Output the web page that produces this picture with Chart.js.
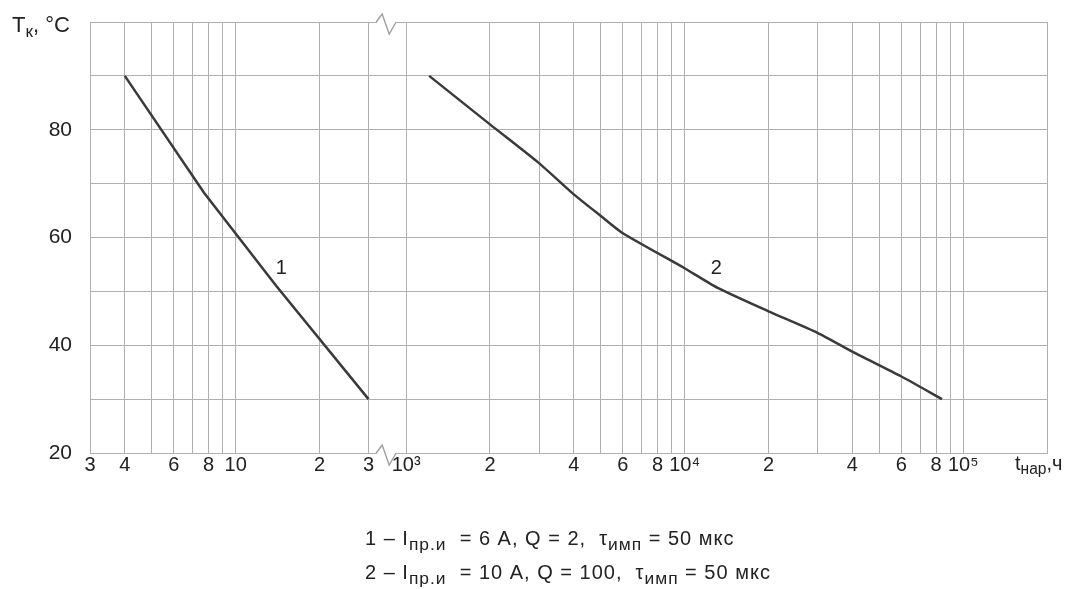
<!DOCTYPE html>
<html><head><meta charset="utf-8">
<script src="https://cdn.jsdelivr.net/npm/chart.js@4"></script>
<style>
html,body{margin:0;padding:0;background:#fff;}
#wrap{position:relative;width:1083px;height:589px;overflow:hidden;}
canvas{position:absolute;left:0;top:0;}
.t{position:absolute;font-family:"Liberation Sans",Arial,sans-serif;color:#222;white-space:pre;line-height:1;}
.t sub{font-size:0.78em;vertical-align:-0.28em;line-height:0;}
.n sub{font-size:0.87em;}
</style></head>
<body>
<div id="wrap">
<canvas id="c" width="1083" height="589"></canvas>
<div class="t" id="ytitle" style="left:12px;top:14px;font-size:22px;">T<sub>к</sub>, °C</div>
<div class="t" id="xtitle" style="left:1015px;top:453px;font-size:20px;">t<sub>нар</sub>,ч</div>
<div class="t n" id="note1" style="left:365px;top:528px;font-size:20px;letter-spacing:1px;">1 – I<sub>пр.и</sub>  = 6 А, Q = 2,  τ<sub>имп</sub> = 50 мкс</div>
<div class="t n" id="note2" style="left:365px;top:562px;font-size:20px;letter-spacing:1px;">2 – I<sub>пр.и</sub>  = 10 А, Q = 100,  τ<sub>имп</sub> = 50 мкс</div>
</div>
<script>
// ---- data ----
const leftTicks = [3,4,5,6,7,8,9,10,20,30];
const leftTickLabels = ['3','4','','6','','8','','10','2','3'];
const rightTicks = [1e3,2e3,3e3,4e3,5e3,6e3,7e3,8e3,9e3,1e4,2e4,3e4,4e4,5e4,6e4,7e4,8e4,9e4,1e5,2e5];
const rightTickLabels = ['10³','2','','4','','6','','8','','10⁴','2','','4','','6','','8','','10⁵',''];
const yTicks = [20,30,40,50,60,70,80,90,100];
const yTickLabels = ['20','','40','','60','','80','',''];
const leftRange = [3, 35];
const rightRange = [855, 200000];
const curve1Time = [4, 7.7, 14, 30];
const curve1Temp = [90, 68.3, 51, 30];
const curve2Time = [1210, 2000, 3000, 4000, 5000, 6000, 10000, 13200, 20000, 30000, 40000, 60000, 84000];
const curve2Temp = [90, 81, 73.8, 68, 64, 60.8, 54.3, 50.6, 46.3, 42.3, 38.8, 34.2, 30];
const curveLabels = ['1', '2'];
const curveLabelTime = [14.6, 13000];
const curveLabelTemp = [54.3, 54.3];

const FONT = '"Liberation Sans", Arial, sans-serif';
const GRID = '#b0b0b0';
const LINE = '#3a3a3a';

const toPts = (xs, ys) => xs.map((x, i) => ({x: x, y: ys[i]}));
const wL = Math.log10(leftRange[1] / leftRange[0]);
const wR = Math.log10(rightRange[1] / rightRange[0]);

function labelFor(ticksArr, labelsArr) {
  return function(value) {
    const i = ticksArr.findIndex(t => Math.abs(t - value) / t < 1e-6);
    return i >= 0 ? labelsArr[i] : '';
  };
}

const extras = {
  id: 'extras',
  afterDraw(chart) {
    const ctx = chart.ctx;
    const a = chart.chartArea;
    const L = chart.scales.xL, R = chart.scales.xR, Y = chart.scales.y;
    const bx = L.right;
    ctx.save();
    [a.top, a.bottom].forEach(yy => {
      ctx.fillStyle = '#fff';
      ctx.fillRect(bx - 10, yy - 2, 19, 4);
      ctx.strokeStyle = '#a0a0a0';
      ctx.lineWidth = 1.4;
      ctx.beginPath();
      ctx.moveTo(bx - 11, yy);
      ctx.lineTo(bx - 5, yy - 8);
      ctx.lineTo(bx + 2, yy + 12);
      ctx.lineTo(bx + 9, yy);
      ctx.stroke();
    });
    ctx.fillStyle = '#222';
    ctx.font = '20px ' + FONT;
    ctx.textAlign = 'center';
    ctx.textBaseline = 'middle';
    const sc = [L, R];
    curveLabels.forEach((lab, i) => {
      ctx.fillText(lab, sc[i].getPixelForValue(curveLabelTime[i]), Y.getPixelForValue(curveLabelTemp[i]));
    });
    ctx.restore();
  }
};

function xScale(range, ticksArr, labelsArr, weight) {
  return {
    type: 'logarithmic',
    position: 'bottom',
    stack: 'x',
    stackWeight: weight,
    min: range[0],
    max: range[1],
    bounds: 'data',
    afterBuildTicks: s => { s.ticks = ticksArr.map(v => ({value: v})); },
    afterFit: s => { s.height = 136; s.paddingLeft = 0; s.paddingRight = 0; },
    grid: {color: GRID, lineWidth: 1, drawTicks: false},
    border: {display: true, color: GRID, width: 1},
    ticks: {
      autoSkip: false, maxRotation: 0, minRotation: 0, padding: 0,
      color: '#222', font: {family: FONT, size: 20},
      callback: labelFor(ticksArr, labelsArr)
    }
  };
}

new Chart(document.getElementById('c'), {
  type: 'line',
  data: {
    datasets: [
      {data: toPts(curve1Time, curve1Temp), xAxisID: 'xL', yAxisID: 'y',
       borderColor: LINE, borderWidth: 2.5, pointRadius: 0, tension: 0, fill: false},
      {data: toPts(curve2Time, curve2Temp), xAxisID: 'xR', yAxisID: 'y',
       borderColor: LINE, borderWidth: 2.5, pointRadius: 0, tension: 0.2, fill: false}
    ]
  },
  options: {
    responsive: false,
    animation: false,
    devicePixelRatio: 1,
    layout: {padding: {left: 0, right: 36, top: 22, bottom: 0}},
    plugins: {legend: {display: false}, tooltip: {enabled: false}},
    scales: {
      xL: xScale(leftRange, leftTicks, leftTickLabels, wL),
      xR: xScale(rightRange, rightTicks, rightTickLabels, wR),
      y: {
        type: 'linear', position: 'left', min: 20, max: 100,
        afterBuildTicks: s => { s.ticks = yTicks.map(v => ({value: v})); },
        afterFit: s => { s.width = 90; s.paddingTop = 0; s.paddingBottom = 0; },
        grid: {color: GRID, lineWidth: 1, drawTicks: false},
        border: {display: true, color: GRID, width: 1},
        ticks: {padding: 18, color: '#222', font: {family: FONT, size: 21},
          callback: labelFor(yTicks, yTickLabels)}
      }
    }
  },
  plugins: [extras]
});
</script>
</body></html>
